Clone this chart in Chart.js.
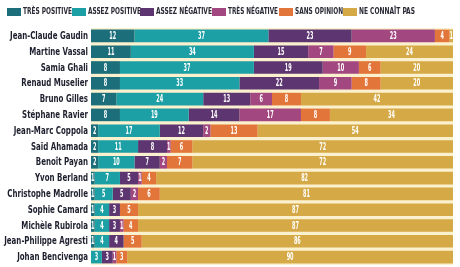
<!DOCTYPE html>
<html><head><meta charset="utf-8">
<script src="https://cdn.jsdelivr.net/npm/chart.js@4"></script>
<style>html,body{margin:0;padding:0;background:#fff}#w{width:460px;height:267px}</style>
</head><body><div id="w"><canvas id="c"></canvas></div>
<script>
const names = ["Jean-Claude Gaudin","Martine Vassal","Samia Ghali","Renaud Muselier","Bruno Gilles","Stéphane Ravier","Jean-Marc Coppola","Saïd Ahamada","Benoît Payan","Yvon Berland","Christophe Madrolle","Sophie Camard","Michèle Rubirola","Jean-Philippe Agresti","Johan Bencivenga"];
const tresPositive  = [12,11,8,8,7,8,2,2,2,1,1,1,1,1,0];
const assezPositive = [37,34,37,33,24,19,17,11,10,7,5,4,4,4,3];
const assezNegative = [23,15,19,22,13,14,12,8,7,5,5,3,3,4,3];
const tresNegative  = [23,7,10,9,6,17,2,1,2,1,2,0,1,0,1];
const sansOpinion   = [4,9,6,8,8,8,13,6,7,4,6,5,4,5,3];
const neConnaitPas  = [1,24,20,20,42,34,54,72,72,82,81,87,87,86,90];
const seriesNames = ["TRÈS POSITIVE","ASSEZ POSITIVE","ASSEZ NÉGATIVE","TRÈS NÉGATIVE","SANS OPINION","NE CONNAÎT PAS"];
const colors = ["#1c6e7a","#1ca0a5","#5d3571","#a2477f","#e2763a","#d5a946"];
const FONT = "'DejaVu Sans Condensed','Liberation Sans',sans-serif";
const series = [tresPositive,assezPositive,assezNegative,tresNegative,sansOpinion,neConnaitPas];

// legend layout (text start x and text width in px)
const legendTextX = [23,88,156,228,295,359];
const legendTextW = [49,53,56,50,48,56];

function condText(ctx, txt, x, y, sx, align){
  const w = ctx.measureText(txt).width * sx;
  let left = x;
  if(align==='right') left = x - w; else if(align==='center') left = x - w/2;
  ctx.save(); ctx.translate(left, y); ctx.scale(sx,1);
  ctx.textAlign='left'; ctx.fillText(txt,0,0); ctx.restore();
  return w;
}

const bgPlugin = {
  id:'bg',
  beforeDatasetsDraw(chart){
    const a = chart.chartArea, ctx = chart.ctx;
    ctx.save(); ctx.fillStyle = "#fcf1cf";
    ctx.fillRect(a.left, a.top, a.right-a.left, a.bottom-a.top);
    ctx.restore();
  }
};
const textPlugin = {
  id:'txt',
  afterDatasetsDraw(chart){
    const ctx = chart.ctx, a = chart.chartArea;
    ctx.save();
    ctx.textBaseline = "middle";
    ctx.fillStyle = "#fff";
    ctx.font = "bold 10px " + FONT;
    chart.data.datasets.forEach((ds,i)=>{
      chart.getDatasetMeta(i).data.forEach((el,j)=>{
        const v = ds.data[j];
        if(!v) return;
        condText(ctx, String(v), (el.x+el.base)/2, el.y+0.5, 0.55, 'center');
      });
    });
    ctx.fillStyle = "#1d1f2d";
    ctx.font = "bold 10px " + FONT;
    const ys = chart.scales.y;
    const sx = 78/ctx.measureText("Jean-Claude Gaudin").width;
    names.forEach((n,j)=>{
      condText(ctx, n, a.left-3, ys.getPixelForValue(j)+0.5, sx, 'right');
    });
    ctx.font = "bold 8.5px " + FONT;
    seriesNames.forEach((s,i)=>{
      const tx = legendTextX[i];
      ctx.fillStyle = colors[i];
      ctx.fillRect(tx-16, 8, 14, 8);
      ctx.fillStyle = "#2a2a36";
      condText(ctx, s, tx, 12, legendTextW[i]/ctx.measureText(s).width, 'left');
    });
    ctx.restore();
  }
};

new Chart(document.getElementById('c'), {
  type:'bar',
  data:{
    labels:names,
    datasets: series.map((d,i)=>({label:seriesNames[i], data:d, backgroundColor:colors[i], borderWidth:0, categoryPercentage:1, barPercentage:0.8}))
  },
  options:{
    indexAxis:'y',
    responsive:true, maintainAspectRatio:false, animation:false,
    layout:{padding:{left:91,right:7,top:28,bottom:2}},
    scales:{
      x:{stacked:true, min:0, max:100, display:false},
      y:{stacked:true, display:false}
    },
    plugins:{ legend:{display:false}, tooltip:{enabled:false} }
  },
  plugins:[bgPlugin,textPlugin]
});
</script></body></html>
